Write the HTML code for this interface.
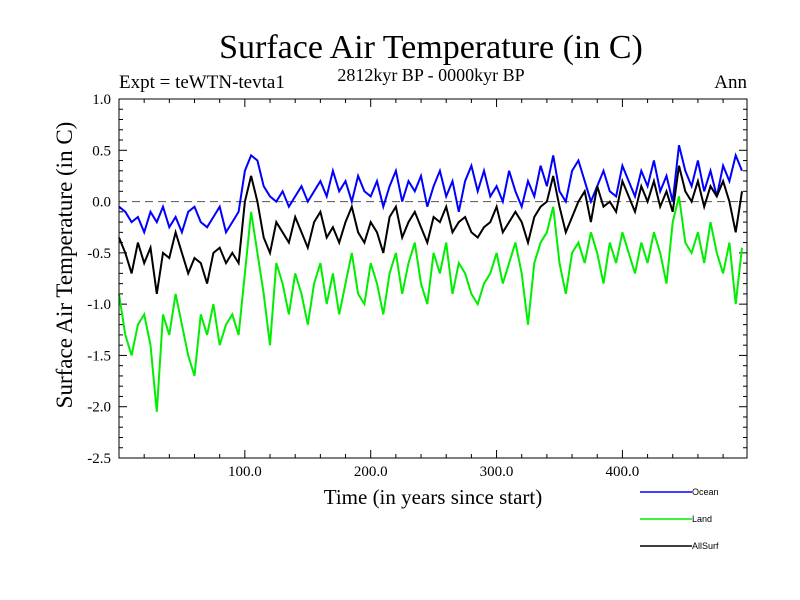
<!DOCTYPE html>
<html><head><meta charset="utf-8"><style>
body{margin:0;background:#fff}
svg{display:block;font-family:"Liberation Serif",serif}
</style></head><body>
<svg id="c" width="800" height="600">
<text x="431" y="58" font-size="34" text-anchor="middle">Surface Air Temperature (in C)</text>
<text x="431" y="81" font-size="18" text-anchor="middle">2812kyr BP - 0000kyr BP</text>
<text x="119" y="88" font-size="19">Expt = teWTN-tevta1</text>
<text x="747" y="88" font-size="19" text-anchor="end">Ann</text>
<text transform="translate(72,265) rotate(-90)" font-size="23" text-anchor="middle">Surface Air Temperature (in C)</text>
<text x="433" y="504" font-size="21" text-anchor="middle">Time (in years since start)</text>
<g id="axes"></g>
<g id="series"></g>
<rect x="119" y="99" width="628" height="359" fill="none" stroke="#000" stroke-width="1"/>
<g id="legend" font-family="Liberation Sans, sans-serif" font-size="9"></g>
</svg>
<script>
const years=[];for(let i=0;i<100;i++)years.push(i*5);
const ocean=[-0.05,-0.1,-0.2,-0.15,-0.3,-0.1,-0.2,-0.05,-0.25,-0.15,-0.3,-0.1,-0.05,-0.2,-0.25,-0.15,-0.05,-0.3,-0.2,-0.1,
0.3,0.45,0.4,0.15,0.05,0.0,0.1,-0.05,0.05,0.15,0.0,0.1,0.2,0.05,0.3,0.1,0.2,0.0,0.25,0.1,
0.05,0.2,-0.05,0.15,0.3,0.0,0.2,0.1,0.25,-0.05,0.15,0.3,0.05,0.2,-0.1,0.2,0.35,0.1,0.3,0.05,
0.15,0.0,0.3,0.1,-0.05,0.2,0.05,0.35,0.15,0.45,0.1,0.0,0.3,0.4,0.2,0.0,0.15,0.3,0.1,0.05,
0.35,0.2,0.05,0.3,0.15,0.4,0.1,0.25,0.0,0.55,0.3,0.15,0.4,0.1,0.3,0.05,0.35,0.2,0.45,0.3];
const land=[-0.9,-1.3,-1.5,-1.2,-1.1,-1.4,-2.05,-1.1,-1.3,-0.9,-1.2,-1.5,-1.7,-1.1,-1.3,-1.0,-1.4,-1.2,-1.1,-1.3,
-0.7,-0.1,-0.5,-0.9,-1.4,-0.6,-0.8,-1.1,-0.7,-0.9,-1.2,-0.8,-0.6,-1.0,-0.7,-1.1,-0.8,-0.5,-0.9,-1.0,
-0.6,-0.8,-1.1,-0.7,-0.5,-0.9,-0.6,-0.4,-0.8,-1.0,-0.5,-0.7,-0.4,-0.9,-0.6,-0.7,-0.9,-1.0,-0.8,-0.7,
-0.5,-0.8,-0.6,-0.4,-0.7,-1.2,-0.6,-0.4,-0.3,-0.05,-0.6,-0.9,-0.5,-0.4,-0.6,-0.3,-0.5,-0.8,-0.4,-0.6,
-0.3,-0.5,-0.7,-0.4,-0.6,-0.3,-0.5,-0.8,-0.2,0.05,-0.4,-0.5,-0.3,-0.6,-0.2,-0.5,-0.7,-0.4,-1.0,-0.45];
const allsurf=[-0.35,-0.5,-0.7,-0.4,-0.6,-0.45,-0.9,-0.5,-0.55,-0.3,-0.5,-0.7,-0.55,-0.6,-0.8,-0.5,-0.45,-0.6,-0.5,-0.6,
0.0,0.25,0.0,-0.35,-0.5,-0.2,-0.3,-0.4,-0.15,-0.3,-0.45,-0.2,-0.1,-0.35,-0.25,-0.4,-0.2,-0.05,-0.3,-0.4,
-0.2,-0.3,-0.5,-0.15,-0.05,-0.35,-0.2,-0.1,-0.25,-0.4,-0.15,-0.2,-0.05,-0.3,-0.2,-0.15,-0.3,-0.35,-0.25,-0.2,
-0.05,-0.3,-0.2,-0.1,-0.2,-0.4,-0.15,-0.05,0.0,0.25,-0.05,-0.3,-0.15,0.0,0.1,-0.2,0.15,-0.05,0.0,-0.1,
0.2,0.05,-0.1,0.15,0.0,0.2,-0.05,0.1,-0.1,0.35,0.1,0.0,0.2,-0.05,0.15,0.05,0.2,0.0,-0.3,0.1];
const yTicks=[1.0,0.5,0.0,-0.5,-1.0,-1.5,-2.0,-2.5];
const xTicks=[100,200,300,400];
const NS='http://www.w3.org/2000/svg';
const X0=119,X1=747,Y0=99,Y1=458;
const xs=v=>X0+(v-0)/(499-0)*(X1-X0);
const ys=v=>Y0+(1.0-v)/(3.5)*(Y1-Y0);
function mk(tag,attrs,parent){const e=document.createElementNS(NS,tag);for(const k in attrs)e.setAttribute(k,attrs[k]);parent.appendChild(e);return e;}
const axes=document.getElementById('axes');
for(let v=-2.5;v<=1.0001;v+=0.1){const y=ys(v);const major=Math.abs(Math.round(v*2)-v*2)<1e-6;const L=major?8:4;
const t1=mk('line',{x1:X0,x2:X0+L,y1:y,y2:y,stroke:'#000'},axes);
const t2=mk('line',{x1:X1,x2:X1-L,y1:y,y2:y,stroke:'#000'},axes);}
yTicks.forEach(v=>{const t=mk('text',{x:111,y:ys(v)+5,'font-size':15,'text-anchor':'end'},axes);t.textContent=v.toFixed(1);
});
for(let v=20;v<499;v+=20){const x=xs(v);const L=v%100===0?8:4;
const t1=mk('line',{x1:x,x2:x,y1:Y1,y2:Y1-L,stroke:'#000'},axes);
const t2=mk('line',{x1:x,x2:x,y1:Y0,y2:Y0+L,stroke:'#000'},axes);}
xTicks.forEach(v=>{const t=mk('text',{x:xs(v),y:Y1+18,'font-size':15,'text-anchor':'middle'},axes);t.textContent=v.toFixed(1);
});
const zl=mk('line',{x1:X0,x2:X1,y1:ys(0),y2:ys(0),stroke:'#555','stroke-dasharray':'8,5'},axes);

const sg=document.getElementById('series');
function draw(vals,color,name){const d=vals.map((v,i)=>(i?'L':'M')+xs(years[i]).toFixed(1)+','+ys(v).toFixed(1)).join('');
const p=mk('path',{d:d,fill:'none',stroke:color,'stroke-width':2},sg);}
draw(land,'#00ee00','land-line');draw(ocean,'#0000ff','ocean-line');draw(allsurf,'#000','allsurf-line');
const lg=document.getElementById('legend');
[['Ocean','#0000ff',492],['Land','#00ee00',519],['AllSurf','#000',546]].forEach(([n,c,y])=>{
const l=mk('line',{x1:640,x2:692,y1:y,y2:y,stroke:c,'stroke-width':1.5},lg);
const t=mk('text',{x:692,y:y+3},lg);t.textContent=n;});
</script>
</body></html>
